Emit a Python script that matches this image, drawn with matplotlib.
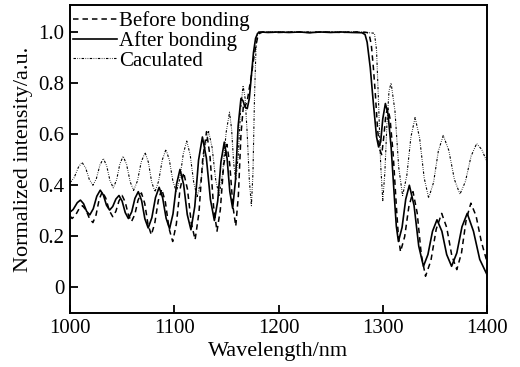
import numpy as np
import matplotlib
matplotlib.use("Agg")
import matplotlib.pyplot as plt

plt.rcParams['font.family'] = ['Liberation Serif', 'DejaVu Serif']

# (wavelength nm, normalized intensity)
after_pts = [(1000,0.295),(1003,0.305),(1007,0.332),(1010,0.342),(1013,0.328),(1016,0.298),
    (1019,0.284),(1022.3,0.308),(1025.7,0.357),(1029,0.381),(1032,0.362),(1035,0.322),
    (1038,0.303),(1041,0.317),(1044,0.346),(1047,0.36),(1050,0.338),(1053,0.293),
    (1056,0.27),(1059.2,0.296),(1062.3,0.349),(1065.5,0.375),(1068.7,0.34),(1071.8,0.269),
    (1075,0.233),(1078.5,0.273),(1082,0.352),(1085.5,0.392),(1088.8,0.352),(1092.2,0.271),
    (1095.5,0.23),(1098.8,0.288),(1102.2,0.404),(1105.5,0.462),(1109,0.403),(1112.5,0.285),
    (1116,0.226),(1119.7,0.317),(1123.3,0.498),(1127,0.589),(1130.8,0.507),(1134.7,0.344),
    (1138.5,0.262),(1141.7,0.339),(1144.8,0.492),(1148,0.569),(1150.7,0.504),(1153.3,0.375),
    (1156,0.31),(1158.7,0.418),(1161.3,0.633),(1164,0.74),(1166,0.73),(1168,0.705),
    (1170,0.70),(1172,0.74),(1174,0.83),(1176,0.92),(1178,0.975),(1180,0.995),(1183,1.0),
    (1190,0.998),(1200,1.0),(1210,0.998),(1220,1.0),(1230,0.997),(1240,1.0),(1250,0.998),
    (1260,1.0),(1270,0.998),(1280,0.997),(1283,0.99),(1285,0.96),(1288,0.86),(1291,0.72),
    (1294,0.59),(1296,0.55),(1298,0.57),(1300,0.66),(1302.5,0.72),(1305,0.68),(1308,0.55),
    (1311,0.36),(1313,0.24),(1315,0.18),(1318.5,0.235),(1322,0.345),(1325.5,0.40),
    (1330,0.321),(1334.5,0.162),(1339,0.083),(1343.3,0.129),(1347.7,0.22),(1352,0.265),
    (1356.7,0.22),(1361.3,0.129),(1366,0.083),(1371,0.135),(1376,0.238),(1381,0.29),
    (1387,0.22),(1393,0.11),(1400,0.05)]

before_pts = [(1000,0.28),(1002,0.27),(1005.3,0.283),(1008.7,0.308),(1012,0.32),(1015.3,0.303),
    (1018.7,0.27),(1022,0.254),(1025,0.284),(1028,0.345),(1031,0.375),(1034.3,0.35),
    (1037.7,0.301),(1041,0.277),(1044,0.298),(1047,0.339),(1050,0.36),(1053,0.334),
    (1056,0.284),(1059,0.258),(1062.2,0.286),(1065.3,0.342),(1068.5,0.37),(1071.7,0.329),
    (1074.8,0.247),(1078,0.206),(1081.3,0.251),(1084.7,0.34),(1088,0.385),(1091.5,0.334),
    (1095,0.231),(1098.5,0.18),(1102,0.248),(1105.5,0.383),(1109,0.45),(1112.7,0.384),
    (1116.3,0.253),(1120,0.187),(1123.7,0.293),(1127.3,0.504),(1131,0.61),(1134.3,0.513),
    (1137.7,0.318),(1141,0.22),(1144.2,0.305),(1147.3,0.475),(1150.5,0.56),(1153.3,0.48),
    (1156.2,0.32),(1159,0.24),(1161.5,0.36),(1164,0.60),(1166.5,0.72),(1168,0.71),
    (1170,0.73),(1172,0.78),(1174,0.83),(1176,0.89),(1178,0.94),(1180,0.98),(1182,0.995),
    (1185,1.0),(1200,0.998),(1215,1.0),(1230,0.998),(1245,1.0),(1260,0.998),(1275,1.0),
    (1285,0.998),(1287,0.99),(1289,0.95),(1291,0.86),(1293,0.75),(1295,0.62),(1297,0.54),
    (1299,0.52),(1301,0.59),(1303,0.68),(1305,0.70),(1307,0.66),(1310,0.52),(1313,0.32),
    (1315,0.2),(1317,0.14),(1321,0.199),(1325,0.316),(1329,0.375),(1333,0.292),
    (1337,0.127),(1341,0.044),(1346.2,0.106),(1351.3,0.229),(1356.5,0.29),(1361.3,0.235),
    (1366.2,0.125),(1371,0.07),(1375.5,0.135),(1380,0.265),(1384.5,0.33),(1389.5,0.28),
    (1394.5,0.18),(1400,0.10)]

calc_pts = [(1000,0.41),(1004,0.43),(1008,0.47),(1011.5,0.49),(1015,0.468),(1018.5,0.423),
    (1022,0.40),(1025.3,0.426),(1028.7,0.479),(1032,0.505),(1035.2,0.476),(1038.3,0.419),
    (1041.5,0.39),(1044.7,0.421),(1047.8,0.483),(1051,0.514),(1054.3,0.481),(1057.7,0.414),
    (1061,0.38),(1064.7,0.417),(1068.3,0.491),(1072,0.528),(1075.2,0.49),(1078.3,0.413),
    (1081.5,0.375),(1085,0.416),(1088.5,0.499),(1092,0.54),(1095.3,0.499),(1098.7,0.416),
    (1102,0.375),(1105.3,0.425),(1108.7,0.524),(1112,0.573),(1115.3,0.519),(1118.7,0.41),
    (1122,0.356),(1125.7,0.42),(1129.3,0.547),(1133,0.61),(1136.3,0.548),(1139.7,0.423),
    (1143,0.36),(1146.3,0.442),(1149.7,0.605),(1153,0.686),(1155,0.62),(1157,0.486),
    (1159,0.42),(1161.3,0.513),(1163.7,0.698),(1166,0.79),(1168,0.74),(1170,0.6),
    (1172,0.42),(1174,0.32),(1175.5,0.45),(1177,0.75),(1178.5,0.95),(1180,1.0),
    (1200,1.0),(1220,1.0),(1240,1.0),(1260,1.0),(1280,1.0),(1292,0.995),(1294,0.93),
    (1296,0.72),(1298,0.48),(1300,0.34),(1302,0.45),(1304,0.64),(1306,0.77),(1308,0.80),
    (1311.7,0.69),(1315.3,0.47),(1319,0.36),(1323,0.436),(1327,0.589),(1331,0.665),
    (1335.3,0.586),(1339.7,0.429),(1344,0.35),(1348.7,0.411),(1353.3,0.534),(1358,0.595),
    (1363.3,0.537),(1368.7,0.423),(1374,0.365),(1379.3,0.415),(1384.7,0.514),(1390,0.563),
    (1395,0.54),(1400,0.49)]

xticks = [1000, 1100, 1200, 1300, 1400]
yticks = [0, 0.2, 0.4, 0.6, 0.8, 1.0]
ytick_labels = ["0", "0.2", "0.4", "0.6", "0.8", "1.0"]

before = np.array(before_pts)
after = np.array(after_pts)
calc = np.array(calc_pts)

fig = plt.figure(figsize=(5.2, 3.67), dpi=100)
ax = fig.add_axes([0.1346, 0.147, 0.802, 0.839])

ax.plot(before[:,0], before[:,1], color='black', lw=1.1, dashes=(3.6, 2.6), label='Before bonding')
ax.plot(after[:,0], after[:,1], color='black', lw=1.2, label='After bonding')
ax.plot(calc[:,0], calc[:,1], color='black', lw=0.8,
        dashes=(2.2, 1.3, 0.6, 1.3, 0.6, 1.3), label='Caculated')

ax.set_xlim(1000, 1400)
ax.set_ylim(-0.1, 1.105)
ax.set_xticks(xticks)
ax.set_yticks(yticks)
ax.set_yticklabels(ytick_labels)
ax.tick_params(direction='in', length=5.5, width=1.3, labelsize=15, pad=4,
               top=False, right=False)
for s in ax.spines.values():
    s.set_linewidth(1.4)

ax.set_xlabel('Wavelength/nm', fontsize=16, labelpad=3)
ax.set_ylabel('Normalized intensity/a.u.', fontsize=16, labelpad=4)

ax.legend(loc='upper left', frameon=False, fontsize=15, handlelength=2.1,
          handletextpad=0.1, labelspacing=0.0, borderaxespad=0.0,
          bbox_to_anchor=(0.0, 0.99), borderpad=0.15)

fig.savefig('out.png', dpi=100)
